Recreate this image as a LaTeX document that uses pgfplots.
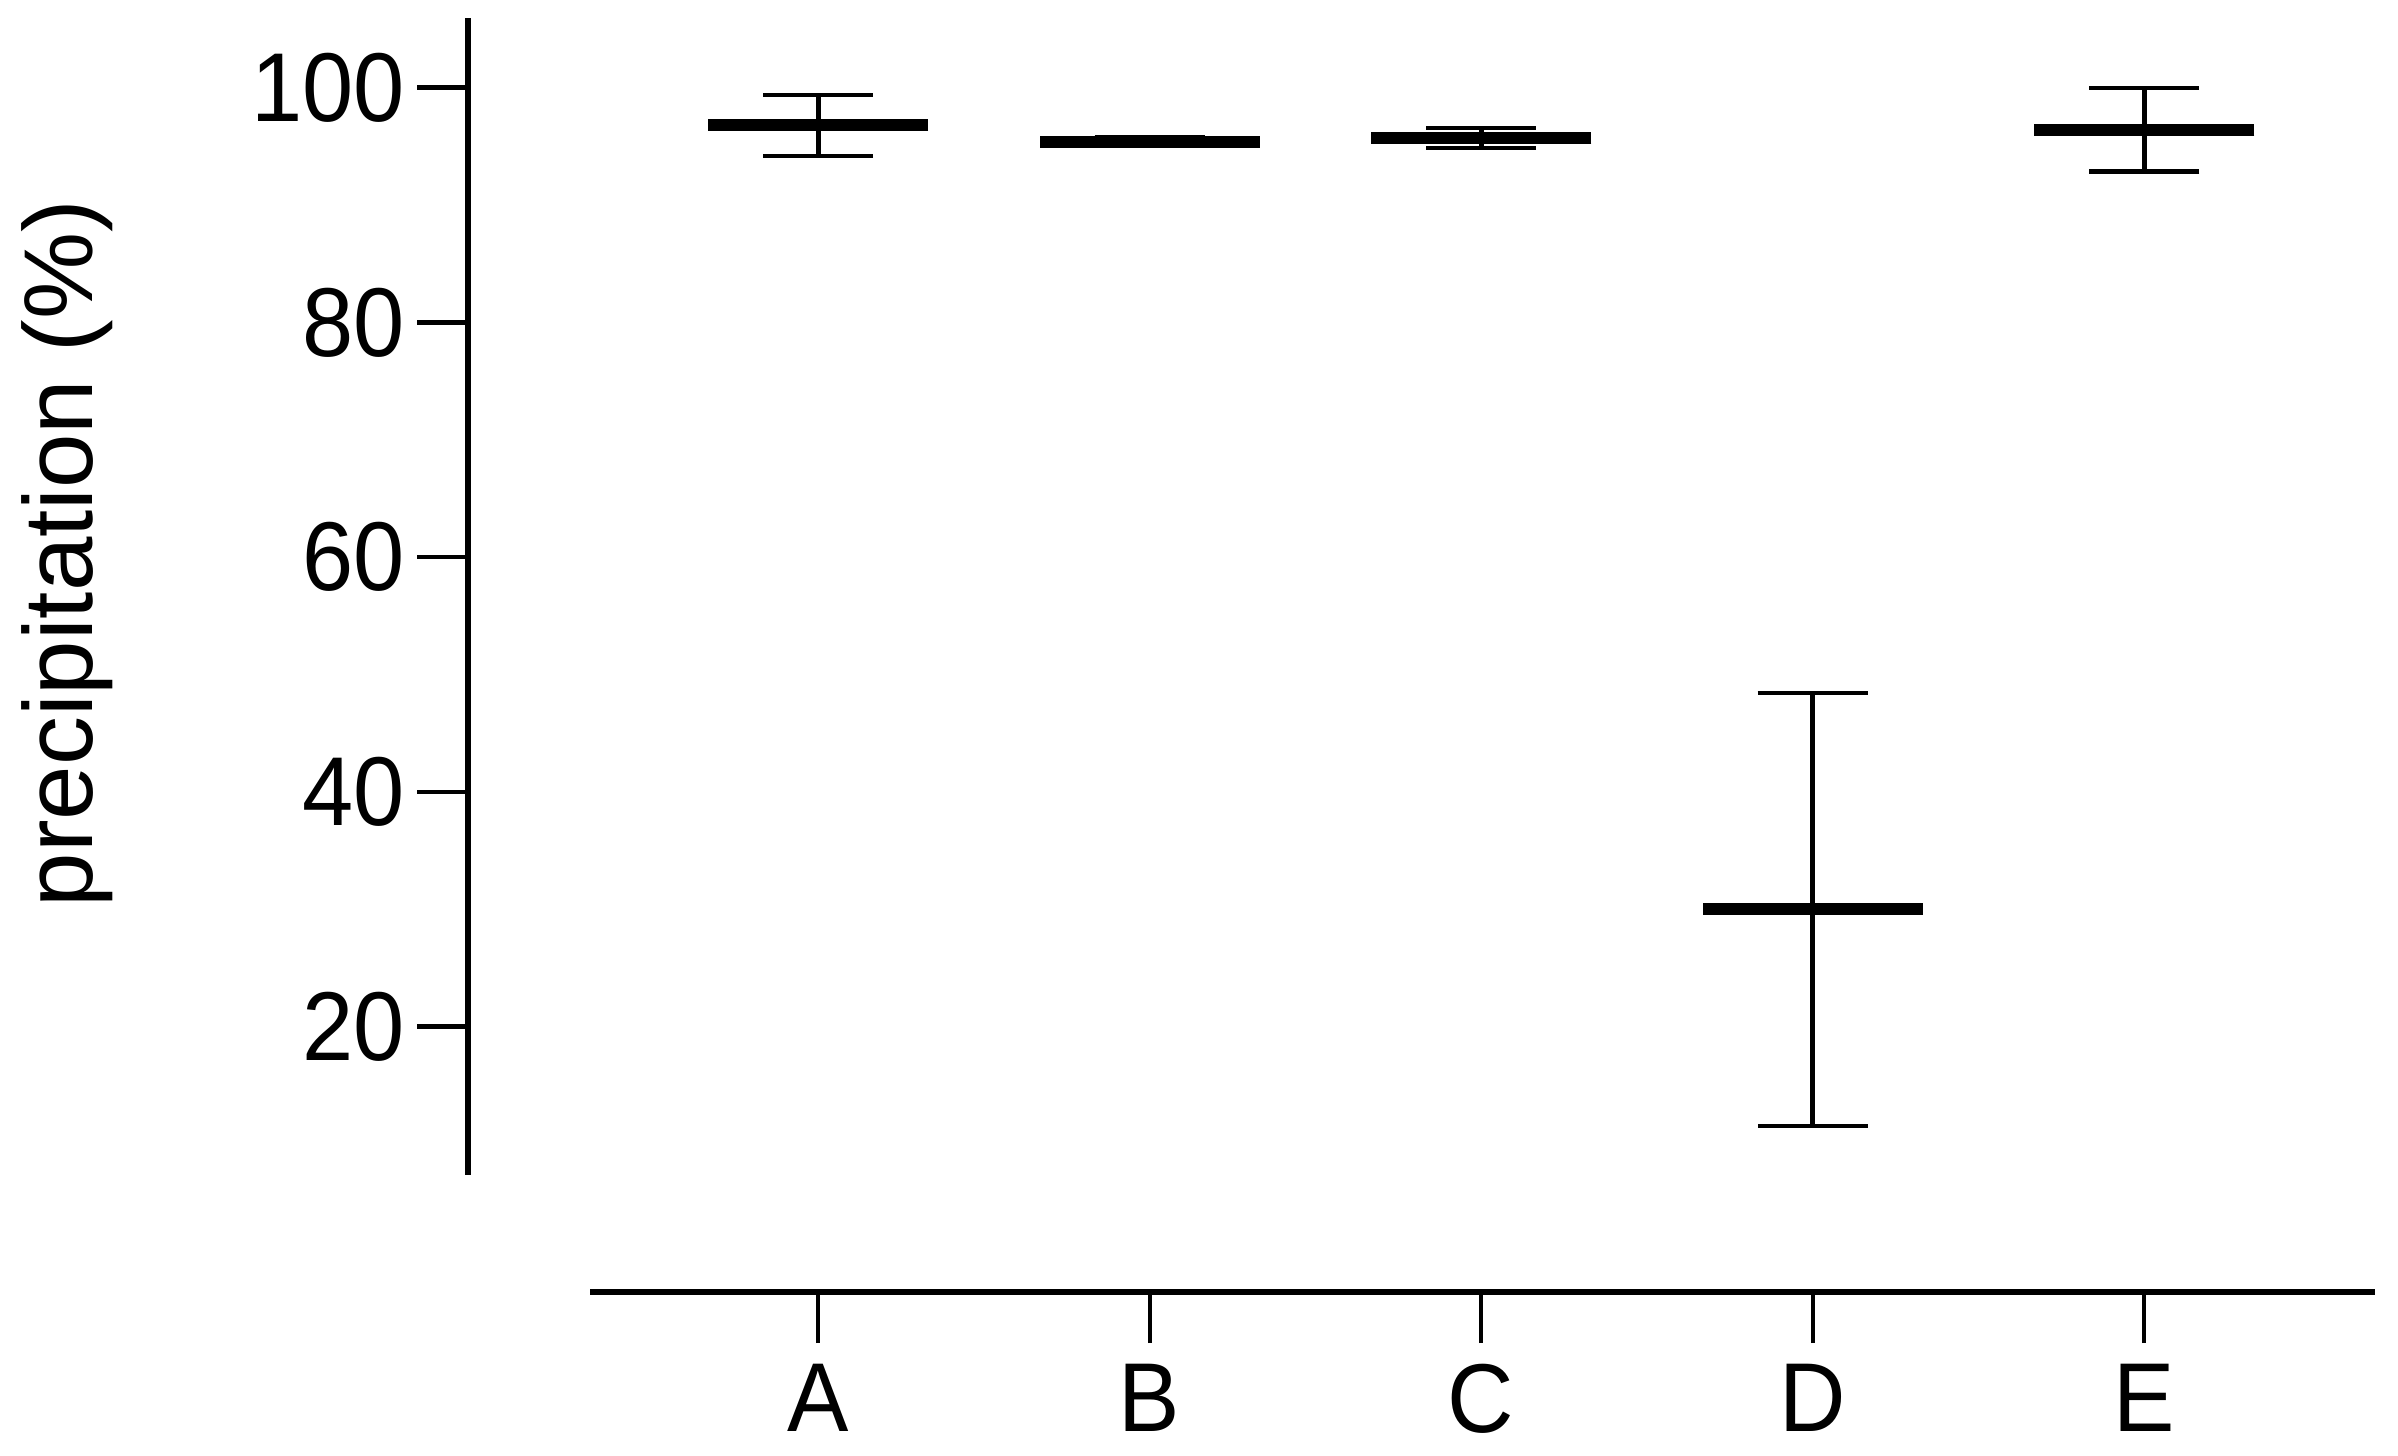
\documentclass[border=0pt]{standalone}
\usepackage{fontspec}
\setmainfont{Liberation Sans}
\newfontfamily\tickfont[FakeStretch=0.94]{Liberation Sans}
\usepackage{pgfplots}
\pgfplotsset{compat=1.18}
\usepackage{pgfplotstable}

\pgfplotstableread{
x y e
1 96.8 2.6
2 95.4 0.35
3 95.7 0.85
4 30.0 18.45
5 96.4 3.55
}\precip

\begin{document}
\begin{tikzpicture}
\begin{axis}[
  scale only axis,
  width=291.75pt,
  height=189pt,
  xmin=0.313, xmax=5.696,
  ymin=7.4, ymax=105.9,
  axis x line*=bottom,
  axis y line*=left,
  axis x line shift=19.25pt,
  axis y line shift=20pt,
  axis line style={-, line width=1pt, black},
  xtick={1,2,3,4,5},
  xticklabels={A,B,C,D,E},
  ytick={20,40,60,80,100},
  tick align=outside,
  major tick length=8.3pt,
  tick style={line width=0.7pt, black},
  ticklabel style={font=\tickfont\fontsize{16}{19}\selectfont},
  yticklabel style={xshift=1.5pt},
  /pgf/number format/assume math mode=true,
  ylabel={precipitation (\%)},
  ylabel style={font=\fontsize{16}{19}\selectfont, at={(ticklabel cs:0.537)}},
  ylabel shift=15.75pt,
  clip=false,
]
\addplot[black, only marks, mark=-, mark size=18pt,
  mark options={line width=2pt},
  error bars/.cd, y dir=both, y explicit,
  error bar style={line width=0.8pt, black},
  error mark=-,
  error mark options={rotate=90, mark size=9pt, line width=0.7pt, black}]
  table[x=x, y=y, y error=e] {\precip};
\coordinate (bl) at (rel axis cs:-0.3308,-0.2434);
\coordinate (tr) at (rel axis cs:1.0129,1.0159);
\end{axis}
\path (bl) rectangle (tr);
\end{tikzpicture}
\end{document}
